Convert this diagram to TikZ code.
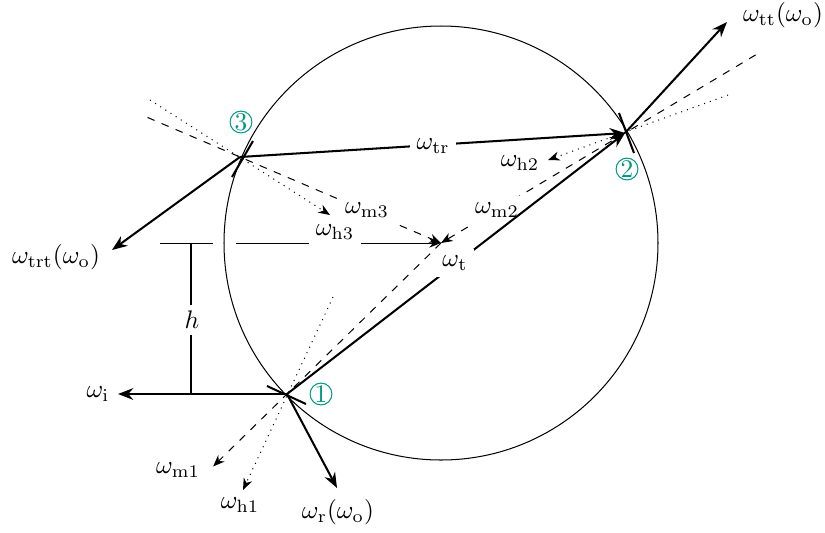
\documentclass[tikz,border=0pt]{standalone}
\usetikzlibrary{arrows.meta,calc}
\definecolor{tealc}{RGB}{0,150,130}
\begin{document}
\begin{tikzpicture}[x=0.3935pt,y=-0.3935pt,
  ray/.style={thick,-{Stealth[length=6pt,width=4.6pt]}},
  thinray/.style={-{Stealth[length=4.6pt,width=3.6pt]}},
  dashray/.style={dashed,-{Stealth[length=4.6pt,width=3.6pt]}},
  dotray/.style={dotted,-{Stealth[length=4.6pt,width=3.6pt]}},
  facet/.style={thick},
  lab/.style={inner sep=1pt},
  onlab/.style={fill=white,inner sep=2.5pt},
  num/.style={circle,draw=tealc,text=tealc,minimum size=8.6pt,inner sep=0pt}]
\useasboundingbox (0,0) rectangle (825,532);
% key points
\coordinate (O) at (441,243);
\coordinate (P1) at (287,394);
\coordinate (P2) at (625,133);
\coordinate (P3) at (240,157);
% free ends
\coordinate (m1e) at ($(O)!1.48!(P1)$);
\coordinate (m2s) at ($(O)!1.71!(P2)$);
\coordinate (m3s) at ($(O)!1.46!(P3)$);
\coordinate (h1s) at (333,297);
\coordinate (h1e) at (243,490);
\coordinate (h2s) at (728,95);
\coordinate (h2e) at (548,160);
\coordinate (h3s) at (150,100);
\coordinate (h3e) at (330,215);
\coordinate (ie) at (118,394);
\coordinate (re) at (337,488);
\coordinate (tte) at (727,22);
\coordinate (trte) at (112,250);
\coordinate (f1a) at (267,386);
\coordinate (f1b) at (306,404);
\coordinate (f2a) at (619,113);
\coordinate (f2b) at (634,153);
\coordinate (f3a) at (253,141);
\coordinate (f3b) at (232,177);
\coordinate (capl) at (160,243);
\coordinate (capr) at (213,243);
\coordinate (hs) at (236,243);
\coordinate (ht) at (191,243);
\coordinate (hb) at (191,394);
% circle
\draw (O) circle (217);
% normals (dashed)
\draw[dashray] (O) -- (m1e);
\draw[dashray] (m2s) -- (O);
\draw[dashray] (m3s) -- (O);
% half vectors (dotted)
\draw[dotray] (h1s) -- (h1e);
\draw[dotray] (h2s) -- (h2e);
\draw[dotray] (h3s) -- (h3e);
% labels on dashed lines
\node[onlab] (lm2) at (497,210) {$\omega_{\mathrm{m2}}$};
\node[onlab] (lm3) at (367,210) {$\omega_{\mathrm{m3}}$};
% offset h
\draw (capl) -- (capr);
\draw[thinray] (hs) -- (O);
\node[onlab] (lh3) at (335,232) {$\omega_{\mathrm{h3}}$};
\draw (ht) -- (hb);
\node[onlab] (lh) at (192,320) {$h$};
% solid rays
\draw[ray] (P1) -- (ie);
\draw[ray] (P1) -- (re);
\draw[ray] (P1) -- (P2);
\draw[ray] (P2) -- (tte);
\draw[ray] (P3) -- (P2);
\draw[ray] (P3) -- (trte);
% microfacets
\draw[facet] (f1a) -- (f1b);
\draw[facet] (f2a) -- (f2b);
\draw[facet] (f3a) -- (f3b);
% labels on solid rays
\node[onlab] (lt) at (455,263) {$\omega_{\mathrm{t}}$};
\node[onlab] (ltr) at (433,146) {$\omega_{\mathrm{tr}}$};
% end labels
\node[lab] (li) at (98,394) {$\omega_{\mathrm{i}}$};
\node[lab] (lr) at (338,512) {$\omega_{\mathrm{r}}(\omega_{\mathrm{o}})$};
\node[lab] (ltt) at (783,15) {$\omega_{\mathrm{tt}}(\omega_{\mathrm{o}})$};
\node[lab] (ltrt) at (56,257) {$\omega_{\mathrm{trt}}(\omega_{\mathrm{o}})$};
\node[lab] (lm1) at (178,470) {$\omega_{\mathrm{m1}}$};
\node[lab] (lh1) at (240,505) {$\omega_{\mathrm{h1}}$};
\node[lab] (lh2) at (520,163) {$\omega_{\mathrm{h2}}$};
% circled numbers
\node[num] (n3) at (241,122) {3};
\node[num] (n2) at (627,169) {2};
\node[num] (n1) at (321,394) {1};
\end{tikzpicture}
\end{document}
